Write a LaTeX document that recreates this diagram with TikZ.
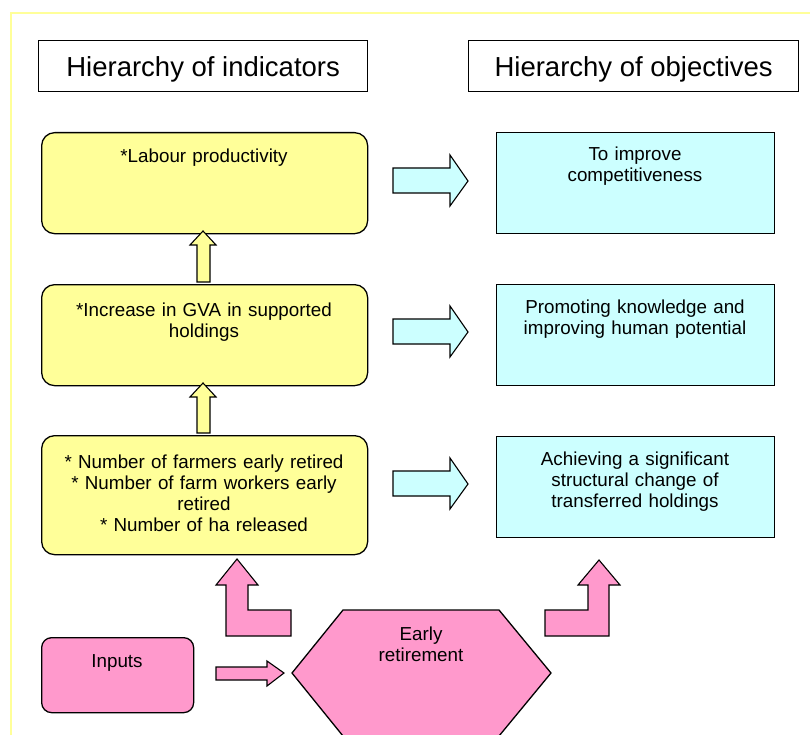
\documentclass[tikz,border=0pt]{standalone}
\usepackage{fontspec}
\setmainfont{Liberation Sans}
\definecolor{frameyel}{HTML}{FFFF99}
\definecolor{boxyel}{HTML}{FFFF99}
\definecolor{boxcyan}{HTML}{CCFFFF}
\definecolor{boxpink}{HTML}{FF99CC}
\begin{document}
\begin{tikzpicture}[x=1pt,y=-1pt,
  titlebox/.style={draw=black,line width=1.3pt,fill=white,minimum width=329pt,minimum height=51pt,anchor=north west,inner sep=0pt,text depth=0pt,font=\fontsize{27.5}{31}\selectfont},
  ybox/.style={draw=black,line width=1.3pt,fill=boxyel,rounded corners=13pt,minimum width=326pt,anchor=north west,inner sep=0pt},
  cbox/.style={draw=black,line width=1.3pt,fill=boxcyan,minimum width=278pt,anchor=north west,inner sep=0pt},
  txt/.style={anchor=base,inner sep=0pt,text width=320pt,align=center,font=\fontsize{18.8}{21}\selectfont},
  yarrow/.style={draw=black,line width=1.1pt,fill=boxyel},
  carrow/.style={draw=black,line width=1.1pt,fill=boxcyan},
  parrow/.style={draw=black,line width=1.1pt,fill=boxpink}
]
\useasboundingbox (0,0) rectangle (810,735);
% outer frame
\draw[frameyel,line width=2pt] (11,760) -- (11,13) -- (830,13);

% titles
\node[titlebox] (t1) at (38,40) {Hierarchy of indicators};
\node[titlebox,minimum width=330pt] (t2) at (468,40) {Hierarchy of objectives};

% yellow boxes
\node[ybox,minimum height=101pt] (y1) at (41,132) {};
\node[ybox,minimum height=101pt] (y2) at (41,284) {};
\node[ybox,minimum height=119pt] (y3) at (41,435) {};
\node[txt] (y1t) at (204,163) {*Labour productivity};
\node[txt] (y2t) at (204,316) {*Increase in GVA in supported\\holdings};
\node[txt] (y3t) at (204,468) {* Number of farmers early retired\\{*} Number of farm workers early\\retired\\{*} Number of ha released};

% cyan boxes
\node[cbox,minimum height=101pt] (c1) at (496,132) {};
\node[cbox,minimum height=101pt] (c2) at (496,284) {};
\node[cbox,minimum height=101pt] (c3) at (496,436) {};
\node[txt] (c1t) at (635,161) {To improve\\competitiveness};
\node[txt] (c2t) at (635,313) {Promoting knowledge and\\improving human potential};
\node[txt] (c3t) at (635,465) {Achieving a significant\\structural change of\\transferred holdings};

% yellow up arrows
\draw[yarrow] (203,231) -- (216,245) -- (210,245) -- (210,282) -- (197,282) -- (197,245) -- (190,245) -- cycle;
\draw[yarrow] (203,383) -- (216,397) -- (210,397) -- (210,433) -- (197,433) -- (197,397) -- (190,397) -- cycle;

% cyan right arrows
\foreach \cy in {181,332,484}{
  \draw[carrow] (393,\cy-13) -- (450,\cy-13) -- (450,\cy-26) -- (468,\cy) -- (450,\cy+25) -- (450,\cy+12) -- (393,\cy+12) -- cycle;
}

% bottom: inputs and early retirement
\node[draw=black,line width=1.3pt,fill=boxpink,rounded corners=10pt,minimum width=152pt,minimum height=75pt,anchor=north west,inner sep=0pt] (inp) at (41,637) {};
\node[txt,text width=140pt] (inpt) at (117,667) {Inputs};
\draw[draw=black,line width=1.3pt,fill=boxpink] (292,673) -- (343,610) -- (499,610) -- (551,673) -- (499,736) -- (343,736) -- cycle;
\node[txt,text width=200pt] (hext) at (421,640) {Early\\retirement};

% pink arrows
\draw[parrow] (216,667) -- (267,667) -- (267,661) -- (284,673) -- (267,686) -- (267,680) -- (216,680) -- cycle;
\draw[parrow] (237,559) -- (258,585) -- (248,585) -- (248,610) -- (291,610) -- (291,636) -- (226,636) -- (226,585) -- (216,585) -- cycle;
\draw[parrow] (599,560) -- (620,585) -- (609,585) -- (609,636) -- (545,636) -- (545,610) -- (588,610) -- (588,585) -- (578,585) -- cycle;
\end{tikzpicture}
\end{document}
